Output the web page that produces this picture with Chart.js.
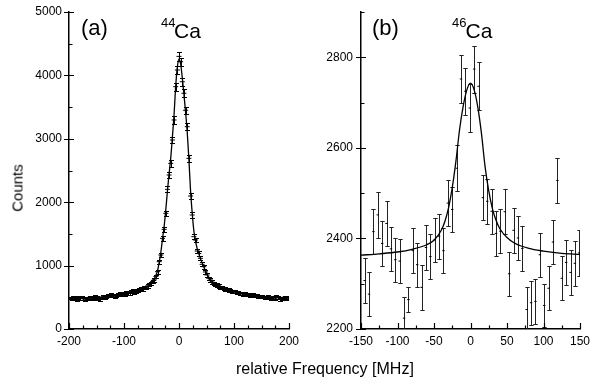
<!DOCTYPE html>
<html><head><meta charset="utf-8">
<script src="https://cdn.jsdelivr.net/npm/chart.js@4.4.1/dist/chart.umd.min.js"></script>
<style>
html,body{margin:0;padding:0;background:#fff;}
#wrap{position:relative;width:590px;height:379px;overflow:hidden;font-family:"Liberation Sans",Arial,sans-serif;color:#000;}
.cv{position:absolute;left:0;top:0;width:590px;height:379px;}
.lbl{position:absolute;white-space:nowrap;line-height:1;color:#000;}
</style></head><body>
<div id="wrap">
<div class="cv"><canvas id="ca" width="590" height="379"></canvas></div>
<div class="cv"><canvas id="cb" width="590" height="379"></canvas></div>
<div class="lbl" style="left:81px;top:17px;font-size:22px">(a)</div>
<div class="lbl" style="left:161px;top:15.5px;font-size:13px">44</div>
<div class="lbl" style="left:174px;top:19.5px;font-size:21px">Ca</div>
<div class="lbl" style="left:372px;top:17px;font-size:22px">(b)</div>
<div class="lbl" style="left:452px;top:15.5px;font-size:13px">46</div>
<div class="lbl" style="left:465.5px;top:19.5px;font-size:21px">Ca</div>
<div class="lbl" style="left:17px;top:188px;font-size:15px;transform:translate(-50%,-50%) rotate(-90deg)">Counts</div>
<div class="lbl" style="left:236px;top:360.5px;font-size:16px">relative Frequency [MHz]</div>
</div>
<script>
// ---------- panel (a): 44Ca ----------
const freqA = [-198,-195,-192,-189,-186,-183,-180,-177,-174,-171,
-168,-165,-162,-159,-156,-153,-150,-147,-144,-141,
-138,-135,-132,-129,-126,-123,-120,-117,-114,-111,
-108,-105,-102,-99,-96,-93,-90,-87,-84,-81,
-78,-75,-72,-69,-66,-63,-60,-57,-54,-51,
-48,-45,-42,-39,-36,-33,-30,-27,-24,-21,
-18,-15,-12,-9,-6,-3,0,3,6,9,
12,15,18,21,24,27,30,33,36,39,
42,45,48,51,54,57,60,63,66,69,
72,75,78,81,84,87,90,93,96,99,
102,105,108,111,114,117,120,123,126,129,
132,135,138,141,144,147,150,153,156,159,
162,165,168,171,174,177,180,183,186,189,
192,195,198];
const countsA = [490,475,500,480,470,495,485,505,480,470,
490,475,500,495,485,510,500,480,470,490,
515,500,510,530,520,540,525,515,535,545,
555,540,560,550,575,565,560,590,600,580,
595,610,620,640,625,660,650,680,700,720,
750,775,830,904,1062,1167,1430,1572,1825,2203,
2429,2613,2981,3297,3822,4085,4300,4216,3900,3718,
3450,3191,2692,2098,1798,1456,1404,1230,1190,1115,
1020,983,900,852,800,773,740,720,700,694,
680,660,650,642,630,620,615,600,595,588,
590,570,575,565,560,550,555,545,540,535,
530,540,520,525,515,520,510,505,500,495,
510,490,480,495,485,520,500,470,490,480,
500,485,495];
const errA = [22,22,22,22,22,22,22,22,22,22,
22,22,22,22,22,23,22,22,22,22,
23,22,23,23,23,23,23,23,23,23,
24,23,24,23,24,24,24,24,24,24,
24,25,25,25,25,26,25,26,26,27,
27,28,29,30,33,34,38,40,43,47,
49,51,55,57,62,64,66,65,62,61,
59,56,52,46,42,38,37,35,34,33,
32,31,30,29,28,28,27,27,26,26,
26,26,25,25,25,25,25,24,24,24,
24,24,24,24,24,23,24,23,23,23,
23,23,23,23,23,23,23,22,22,22,
23,22,22,22,22,23,22,22,22,22,
22,22,22];
const fitFreqA = [-200,-175,-150,-125,-100,-90,-80,-70,-60,-55,-50,-45,-42,-39,-36,-33,-30,-27,-24,-21,-18,-15,-12,-9,-6,-3,0,3,6,9,12,15,18,21,24,27,30,33,36,40,45,50,55,60,70,80,90,100,125,150,175,200];
const fitA = [478,485,495,515,550,568,590,615,655,690,730,790,845,920,1050,1210,1420,1620,1880,2180,2450,2700,3030,3380,3830,4130,4260,4180,3960,3700,3420,3100,2680,2180,1830,1550,1390,1270,1185,1090,980,880,805,750,690,645,612,588,548,518,502,492];
const xTicksA = [-200,-100,0,100,200];
const xMinorA = [-175,-150,-125,-75,-50,-25,25,50,75,125,150,175];
const yTicksA = [0,1000,2000,3000,4000,5000];
const yMinorA = [500,1500,2500,3500,4500];

// ---------- panel (b): 46Ca ----------
const freqB = [-145,-139,-133,-127,-121,-115,-109,-103,-97,-91,-85,-79,-73,-67,-61,-55,-49,-43,-37,-31,-25,-19,-13,-7,-1,5,11,17,23,29,35,41,47,53,59,65,71,77,83,89,95,101,107,113,119,125,131,137,143,149];
const countsB = [2307,2277,2415,2452,2389,2433,2377,2353,2350,2224,2265,2373,2342,2292,2380,2360,2397,2405,2373,2478,2464,2555,2752,2725,2688,2774,2736,2490,2482,2460,2411,2416,2459,2322,2418,2401,2378,2243,2258,2261,2364,2252,2290,2392,2528,2312,2347,2325,2345,2368];
const errB = [49,48,49,50,49,50,49,49,49,47,28,49,49,49,50,49,49,50,49,50,50,51,52,52,54,52,53,50,50,50,49,49,50,49,50,49,49,49,49,49,49,47,49,49,50,49,49,49,49,50];
const fitFreqB = [-150,-125,-100,-80,-60,-50,-40,-35,-30,-25,-20,-15,-10,-5,0,5,10,15,20,25,30,35,40,50,60,80,100,125,150];
const fitB = [2363,2366,2370,2376,2386,2396,2418,2438,2468,2512,2570,2640,2692,2728,2743,2728,2690,2632,2558,2505,2466,2440,2422,2402,2390,2378,2372,2367,2365];
const xTicksB = [-150,-100,-50,0,50,100,150];
const xMinorB = [-125,-75,-25,25,75,125];
const yTicksB = [2200,2400,2600,2800];
const yMinorB = [2300,2500,2700,2900];

Chart.defaults.font.family = '"Liberation Sans", Arial, sans-serif';
Chart.defaults.color = '#000';

const decor = {
  id: 'decor',
  beforeDatasetsDraw(chart, args, o) {
    const {ctx, chartArea: a, scales: {x, y}} = chart;
    ctx.save();
    ctx.beginPath(); ctx.rect(a.left, a.top, a.right - a.left, a.bottom - a.top); ctx.clip();
    ctx.strokeStyle = o.barColor; ctx.lineWidth = 1;
    ctx.beginPath();
    o.xs.forEach((f, i) => {
      const px = Math.round(x.getPixelForValue(f)) + 0.5;
      const t = Math.round(y.getPixelForValue(o.ys[i] + o.es[i])) + 0.5;
      const b = Math.round(y.getPixelForValue(o.ys[i] - o.es[i])) + 0.5;
      ctx.moveTo(px, t); ctx.lineTo(px, b);
      ctx.moveTo(px - o.cap, t); ctx.lineTo(px + o.cap, t);
      ctx.moveTo(px - o.cap, b); ctx.lineTo(px + o.cap, b);
    });
    ctx.stroke();
    ctx.restore();
  },
  afterDraw(chart, args, o) {
    const {ctx, chartArea: a, scales: {x, y}} = chart;
    ctx.save(); ctx.strokeStyle = '#000'; ctx.lineWidth = 1.2;
    ctx.beginPath();
    o.xMajor.forEach(v => { const p = Math.round(x.getPixelForValue(v)) + 0.5; ctx.moveTo(p, a.bottom); ctx.lineTo(p, a.bottom - 6); });
    o.xMinor.forEach(v => { const p = Math.round(x.getPixelForValue(v)) + 0.5; ctx.moveTo(p, a.bottom); ctx.lineTo(p, a.bottom - 3.5); });
    o.yMajor.forEach(v => { const p = Math.round(y.getPixelForValue(v)) + 0.5; ctx.moveTo(a.left - 5, p); ctx.lineTo(a.left + 5, p); });
    o.yMinor.forEach(v => { const p = Math.round(y.getPixelForValue(v)) + 0.5; ctx.moveTo(a.left, p); ctx.lineTo(a.left + 3.5, p); });
    ctx.stroke(); ctx.restore();
  }
};

function makeChart(id, cfg) {
  const pts = cfg.xs.map((f, i) => ({x: f, y: cfg.ys[i]}));
  const fit = cfg.fx.map((f, i) => ({x: f, y: cfg.fy[i]}));
  const zeroPad = s => { s.paddingLeft = 0; s.paddingRight = 0; s.paddingTop = 0; s.paddingBottom = 0; };
  const plain = v => String(v);
  return new Chart(document.getElementById(id), {
    type: 'scatter',
    data: {datasets: [
      {data: pts, showLine: false, pointStyle: 'line', pointRadius: cfg.mark, pointHoverRadius: cfg.mark,
       borderColor: '#000', backgroundColor: '#000', pointBorderWidth: 1, order: 2},
      {type: 'line', data: fit, borderColor: '#000', borderWidth: 1.3, pointRadius: 0, fill: false,
       cubicInterpolationMode: 'monotone', order: 1}
    ]},
    options: {
      responsive: false, animation: false, events: [],
      layout: {padding: {left: cfg.padL, right: cfg.padR, top: 12, bottom: 0}},
      plugins: {legend: {display: false}, tooltip: {enabled: false},
        decor: {xs: cfg.xs, ys: cfg.ys, es: cfg.es, cap: cfg.cap, barColor: cfg.barColor,
                xMajor: cfg.xTicks, xMinor: cfg.xMinor, yMajor: cfg.yTicks, yMinor: cfg.yMinor}},
      scales: {
        x: {type: 'linear', min: cfg.xMin, max: cfg.xMax,
            afterBuildTicks: s => { s.ticks = cfg.xTicks.map(v => ({value: v})); },
            afterFit: s => { s.height = 50; zeroPad(s); },
            grid: {display: false, drawTicks: false},
            border: {display: true, color: '#000', width: 1.5},
            ticks: {font: {size: 12}, color: '#000', padding: 5, maxRotation: 0, autoSkip: false, callback: plain}},
        y: {type: 'linear', min: cfg.yMin, max: cfg.yMax,
            afterBuildTicks: s => { s.ticks = cfg.yTicks.map(v => ({value: v})); },
            afterFit: s => { s.width = cfg.yW; zeroPad(s); },
            grid: {display: false, drawTicks: false},
            border: {display: true, color: '#000', width: 1.5},
            ticks: {font: {size: 12}, color: '#000', padding: cfg.yPad, autoSkip: false, callback: plain}}
      }
    },
    plugins: [decor]
  });
}

makeChart('ca', {xs: freqA, ys: countsA, es: errA, fx: fitFreqA, fy: fitA, mark: 2.5, cap: 2.5, barColor: '#000',
  padL: 0, padR: 301, yW: 69, yPad: 7, xMin: -200, xMax: 200, yMin: 0, yMax: 5000,
  xTicks: xTicksA, xMinor: xMinorA, yTicks: yTicksA, yMinor: yMinorA});
makeChart('cb', {xs: freqB, ys: countsB, es: errB, fx: fitFreqB, fy: fitB, mark: 1.2, cap: 2.2, barColor: '#222',
  padL: 300, padR: 10, yW: 61, yPad: 8, xMin: -150, xMax: 150, yMin: 2200, yMax: 2900,
  xTicks: xTicksB, xMinor: xMinorB, yTicks: yTicksB, yMinor: yMinorB});
</script>
</body></html>
